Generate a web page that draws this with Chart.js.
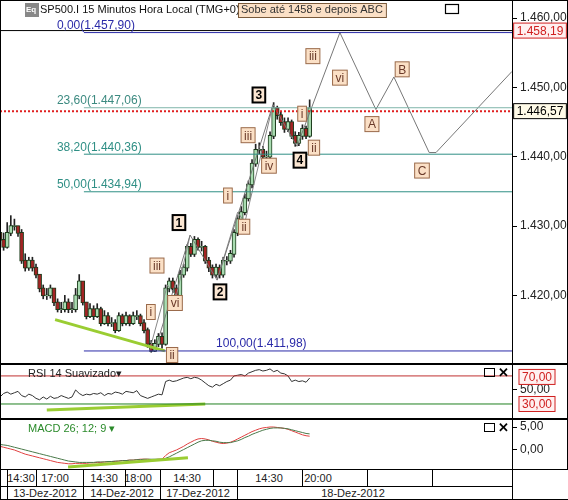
<!DOCTYPE html>
<html><head><meta charset="utf-8">
<script src="https://cdn.jsdelivr.net/npm/chart.js@4.4.1/dist/chart.umd.min.js"></script>
<style>
body{margin:0;width:568px;height:500px;background:#fff;position:relative;overflow:hidden;font-family:"Liberation Sans",Arial,sans-serif}
canvas{position:absolute;left:0}
.t{position:absolute;font-size:12px;color:#222;white-space:nowrap}
.sep{position:absolute;background:#000;width:1px}
</style></head><body>
<canvas id="main" style="top:0px" width="568" height="364"></canvas>
<canvas id="rsi" style="top:364px" width="568" height="55"></canvas>
<canvas id="macd" style="top:419px" width="568" height="51"></canvas>
<div id="axis"></div>
<script>
const closes=[1428,1427,1429,1430,1430,1429,1425,1424,1425,1424,1423,1421,1420,1420,1421,1419,1418,1418,1419,1418,1418,1420,1422,1419,1417,1418,1417,1418,1416,1417,1416,1416,1415,1417,1416,1417,1416,1417,1417,1416,1415,1413,1412,1413,1414,1413,1421,1422,1421,1420,1423,1424,1427,1426,1428,1427,1427,1425,1424,1423,1424,1423,1425,1425,1426,1429,1431,1432,1434,1436,1439,1441,1441,1440,1440,1443,1447,1446,1445,1444,1445,1443,1442,1443,1444,1443,1447];
const highs=[1430,1429,1430.5,1431.5,1431,1430,1429.5,1426,1425.5,1425.5,1424.5,1423,1421.5,1421,1421.5,1421,1419.5,1419,1420,1419.5,1419,1421,1423,1422,1419,1418.8,1418.5,1418.8,1418.3,1417.8,1417.5,1416.8,1416.5,1417.5,1417.3,1417.6,1417.2,1417.6,1417.8,1417.3,1416.5,1415.3,1413.5,1413.6,1414.5,1414.6,1421.5,1422.5,1422.5,1421.5,1423.6,1424.5,1427.3,1427.5,1428.5,1428.3,1427.8,1427.2,1425.5,1424.4,1424.5,1424.4,1425.5,1425.6,1426.5,1429.5,1431.5,1432.8,1434.6,1436.5,1439.6,1441.8,1442,1441.5,1440.8,1443.6,1447.8,1447.3,1446.4,1445.6,1445.6,1445.3,1443.6,1443.5,1444.6,1444.4,1448.2];
const lows=[1427.5,1426.5,1426.8,1428.6,1429.4,1428.5,1424.6,1423.5,1423.6,1423.5,1422.5,1420.5,1419.5,1419.4,1419.6,1418.5,1417.6,1417.5,1417.6,1417.5,1417.5,1417.6,1419.5,1418.6,1416.6,1416.8,1416.5,1416.8,1415.6,1415.8,1415.6,1415.5,1414.6,1414.8,1415.6,1415.7,1415.6,1415.8,1416.5,1415.6,1414.6,1412.5,1411.8,1411.9,1412.6,1412.4,1412.8,1420.5,1420.4,1419.5,1419.6,1422.6,1423.5,1425.6,1425.6,1426.5,1426.4,1424.6,1423.4,1422.5,1422.6,1422.5,1422.6,1424.4,1424.6,1425.5,1428.6,1430.6,1431.6,1433.6,1435.5,1438.6,1440.4,1439.6,1439.5,1439.6,1442.6,1445.4,1444.5,1443.5,1443.6,1442.6,1441.5,1441.6,1442.5,1442.6,1442.8];
const firstOpen=1429;
const rsiValues=[40,45,47,44,46,48,42,40,44,42,38,36,40,37,41,38,39,42,40,38,40,50,45,42,44,43,45,44,46,42,45,44,47,46,44,48,47,46,49,42,40,38,40,42,44,43,62,64,62,63,65,67,68,66,68,67,64,60,56,54,58,56,59,62,64,70,71,72,70,74,76,78,79,77,78,80,76,78,74,73,70,62,64,62,63,61,67];
const macdValues=[0.8,0.6,0.4,0.2,0.0,-0.3,-0.6,-0.9,-1.1,-1.3,-1.5,-1.7,-1.9,-2.1,-2.3,-2.5,-2.7,-2.8,-2.9,-3.0,-3.0,-2.9,-2.9,-2.9,-2.9,-2.8,-2.8,-2.7,-2.7,-2.6,-2.6,-2.5,-2.5,-2.4,-2.3,-2.3,-2.2,-2.2,-2.1,-2.0,-2.0,-2.0,-2.1,-2.1,-2.0,-2.0,-1.2,-0.6,-0.3,0.0,0.4,0.8,1.3,1.7,2.1,2.4,2.5,2.4,2.2,1.9,1.7,1.5,1.4,1.5,1.7,2.0,2.4,2.8,3.2,3.6,4.0,4.3,4.6,4.8,4.9,5.0,5.0,4.9,4.8,4.7,4.5,4.2,3.9,3.6,3.3,3.1,3.0];
const signalValues=[1.2,1.1,1.0,0.8,0.6,0.4,0.2,0.0,-0.2,-0.4,-0.6,-0.8,-1.0,-1.2,-1.4,-1.6,-1.8,-2.0,-2.2,-2.4,-2.5,-2.6,-2.7,-2.7,-2.7,-2.7,-2.7,-2.6,-2.6,-2.6,-2.5,-2.5,-2.4,-2.4,-2.3,-2.3,-2.2,-2.2,-2.1,-2.1,-2.0,-2.0,-2.0,-2.0,-2.0,-2.0,-1.8,-1.5,-1.1,-0.7,-0.3,0.1,0.5,0.9,1.3,1.7,2.0,2.1,2.1,2.0,1.9,1.7,1.6,1.6,1.6,1.8,2.0,2.3,2.7,3.0,3.4,3.7,4.0,4.3,4.5,4.7,4.8,4.8,4.8,4.7,4.6,4.4,4.2,4.0,3.8,3.6,3.5];
const fibLevels=[1457.90,1447.06,1440.36,1434.94,1411.98];
const fibLabels=["0,00(1.457,90)","23,60(1.447,06)","38,20(1.440,36)","50,00(1.434,94)","100,00(1.411,98)"];
const fibColors=["#2a2aa8","#7fb5ab","#2f8f85","#2f8f85","#2a2aa8"];
const fibLabelX=[15.8,15.8,15.8,15.8,60];
const waveX=[43,52.8,60.3,75.8,82.5,94.4,104.4,109.4,119.2,121.1,142.2];
const waveY=[1412,1428.7,1422.2,1447.5,1441.5,1457.9,1446.8,1451.5,1440.6,1440.6,1452.3];
const subWaveX=[41.5,46.5,49,52.8];
const subWaveY=[1412,1421.5,1420,1428.7];
const subWave2X=[60.3,66,68,75.8];
const subWave2Y=[1422.2,1432,1430.5,1447.5];
const labelText=["1","2","3","4","iii","vi","i","ii","i","ii","iii","iv","i","ii","iii","vi","A","B","C"];
const labelX=[49.7,61.1,71.9,83.3,43.6,48.6,41.9,47.8,63.3,67.8,68.9,74.7,83.9,87.2,86.9,94.4,103.3,111.7,117.2];
const labelY=[1430.5,1420.5,1448.9,1439.5,1424.3,1418.9,1417.6,1411.4,1434.4,1429.9,1443.1,1438.7,1446.2,1441.3,1454.5,1451.4,1444.7,1452.6,1438.0];
const priceTicks=[1420,1430,1440,1450,1460];
const rsiTicks=[50], macdTicks=[0,5];
const lastPrice=1446.57, targetPrice=1458.19;
const trendMainX=[15.3,45.8], trendMainY=[1416.5,1412.0];
const trendRsiX=[13,57], trendRsiY=[21.4,30];
const trendMacdX=[18.9,52.2], trendMacdY=[-3.7,-1.7];
const timeRow1=[["14:30",21],["17:00",55],["14:30",104],["18:00",138],["14:30",187],["14:30",269],["20:00",318]];
const timeRow1Sep=[7,36,83,125,160,213,237,302,367,432];
const timeRow2=[["13-Dez-2012",45],["14-Dez-2012",122],["17-Dez-2012",198],["18-Dez-2012",353]];
const timeRow2Sep=[7,83,160,237];

const XMAX=142.2;
const opens=closes.map((c,i)=>i===0?firstOpen:closes[i-1]);
const pts=(xs,ys)=>xs.map((x,i)=>({x,y:ys[i]}));
const font='"Liberation Sans",Arial,sans-serif';
Chart.defaults.font.family=font;Chart.defaults.font.size=11;Chart.defaults.animation=false;
const fmtNum=v=>v.toLocaleString('de-DE',{minimumFractionDigits:2,maximumFractionDigits:2});

function yAxis(min,max,ticks){
 return {position:'right',min,max,afterFit:s=>{s.width=56},
  afterBuildTicks:s=>{s.ticks=ticks.map(v=>({value:v}))},
  ticks:{display:false},
  grid:{display:true,drawOnChartArea:false,drawTicks:true,tickLength:5,color:'#000'},
  border:{display:true,color:'#000'}};
}
const tickLabels={id:'tickLabels',afterDraw(c){const s=c.scales.y,x=c.ctx;x.save();x.font='12px '+font;x.fillStyle='#222';x.textAlign='left';x.textBaseline='middle';
 s.ticks.forEach(t=>{x.fillText(fmtNum(t.value),s.left+8,s.getPixelForValue(t.value));});x.restore();}};
const xAxis={type:'linear',min:0,max:XMAX,display:false,offset:false};
const line=(data,color,w,extra)=>Object.assign({type:'line',data,borderColor:color,borderWidth:w,pointRadius:0,fill:false,tension:0},extra||{});
const frame={id:'frame',afterDraw(c){const x=c.ctx;x.save();x.strokeStyle='#000';x.lineWidth=1;x.strokeRect(0.5,0.5,c.width-1,c.height-1);x.restore();}};
const opts=(min,max,ticks)=>({responsive:false,layout:{padding:0},plugins:{legend:{display:false},tooltip:{enabled:false}},scales:{x:xAxis,y:yAxis(min,max,ticks)}});

function box(ctx,t,cx,cy,opt){
 ctx.font=(opt.bold?'bold ':'')+(opt.size||12)+'px '+font;
 const w=ctx.measureText(t).width+6,h=15;
 ctx.fillStyle=opt.bg;ctx.fillRect(cx-w/2,cy-h/2,w,h);
 ctx.lineWidth=opt.lw;ctx.strokeStyle=opt.bc;ctx.strokeRect(cx-w/2,cy-h/2,w,h);
 ctx.fillStyle=opt.fg;ctx.textAlign='center';ctx.textBaseline='middle';ctx.fillText(t,cx,cy+1);
}
const mainDeco={id:'mainDeco',afterDraw(c){
 const x=c.ctx,sx=c.scales.x,sy=c.scales.y;x.save();
 fibLabels.forEach((t,i)=>{x.font='12px '+font;x.fillStyle=fibColors[i]==="#7fb5ab"?"#3c8a80":fibColors[i];x.textAlign='left';x.textBaseline='bottom';x.fillText(t,sx.getPixelForValue(fibLabelX[i]),sy.getPixelForValue(fibLevels[i])-1);});
 labelText.forEach((t,i)=>{const big=/^[1-4]$/.test(t);box(x,t,sx.getPixelForValue(labelX[i]),sy.getPixelForValue(labelY[i]),big?{bg:'#fbe6d2',bc:'#000',lw:2,fg:'#000',bold:true}:{bg:'#fbe0c6',bc:'#9a6a4a',lw:1,fg:'#6a3a2a'});});
 box(x,fmtNum(targetPrice),540,sy.getPixelForValue(targetPrice),{bg:'#fff0f0',bc:'#d02020',lw:1,fg:'#d02020'});
 box(x,fmtNum(lastPrice),540,sy.getPixelForValue(lastPrice),{bg:'#fffbe8',bc:'#000',lw:1,fg:'#000'});
 x.fillStyle='#888';x.fillRect(25,3,14,14);x.fillStyle='#fff';x.font='bold 8px '+font;x.textAlign='left';x.textBaseline='alphabetic';x.fillText('Eq',26,12);
 x.font='11px '+font;x.fillStyle='#111';x.textBaseline='middle';x.fillText('SP500.I 15 Minutos Hora Local (TMG+0)▾',40,10);
 const t='Sobe até 1458 e depois ABC';const w=x.measureText(t).width+6;
 x.fillStyle='#fbe0c6';x.fillRect(238,3,w,14);x.strokeStyle='#7a5a3a';x.lineWidth=1;x.strokeRect(238.5,3.5,w,14);x.fillStyle='#333';x.fillText(t,241,10);
 x.strokeStyle='#000';x.lineWidth=1.2;x.strokeRect(445.5,4.5,13,9);
 x.restore();}};

const bodyColor=closes.map((c,i)=>c>=opens[i]?'#a9dcb1':'#a32424');
new Chart(document.getElementById('main'),{type:'bar',
 data:{datasets:[
  line(pts([0,XMAX],[targetPrice,targetPrice]),'#000',1),
  ...fibLevels.map((v,i)=>line(pts([23.3,XMAX],[v,v]),fibColors[i],1)),
  line(pts([0,XMAX],[lastPrice,lastPrice]),'#e02020',2,{borderDash:[2,2]}),
  line(pts(trendMainX,trendMainY),'#9acd32',3),
  line(pts(waveX,waveY),'#777',1),
  line(pts(subWaveX,subWaveY),'#888',1),
  line(pts(subWave2X,subWave2Y),'#888',1),
  {type:'bar',data:closes.map((c,i)=>({x:i,y:[Math.min(opens[i],c)-0.08,Math.max(opens[i],c)+0.08]})),backgroundColor:bodyColor,borderColor:'#1a3a1a',borderWidth:1,borderSkipped:false,barThickness:4,grouped:false,order:0},
  {type:'bar',data:closes.map((c,i)=>({x:i,y:[lows[i],highs[i]]})),backgroundColor:'#222',barThickness:1,grouped:false,order:1}
 ]},
 options:opts(1410.1,1462.6,priceTicks),
 plugins:[mainDeco,tickLabels,frame]});

const closeIcons=(x)=>{x.strokeStyle='#000';x.lineWidth=1;x.strokeRect(484.5,4.5,10,8);x.font='bold 13px '+font;x.fillStyle='#000';x.textAlign='left';x.textBaseline='middle';x.fillText('✕',498,9);};
const rsiDeco={id:'rsiDeco',afterDraw(c){const x=c.ctx,sy=c.scales.y;x.save();
 x.font='11px '+font;x.fillStyle='#222';x.textAlign='left';x.textBaseline='middle';x.fillText('RSI 14 Suavizado▾',28,10);
 box(x,'70,00',537,sy.getPixelForValue(70)+1,{bg:'#fff0f0',bc:'#d02020',lw:1,fg:'#d02020'});
 box(x,'30,00',537,sy.getPixelForValue(30),{bg:'#fff0f0',bc:'#d02020',lw:1,fg:'#d02020'});
 closeIcons(x);x.restore();}};
new Chart(document.getElementById('rsi'),{type:'line',
 data:{datasets:[
  line(pts([0,XMAX],[70,70]),'#c03030',1),
  line(pts([0,XMAX],[30,30]),'#208020',1),
  line(pts(trendRsiX,trendRsiY),'#9acd32',3),
  line(rsiValues.map((v,i)=>({x:i,y:v})),'#333',1)
 ]},
 options:opts(8.6,87,rsiTicks),
 plugins:[tickLabels,rsiDeco,frame]});

const macdDeco={id:'macdDeco',afterDraw(c){const x=c.ctx;x.save();
 x.font='11px '+font;x.fillStyle='#2a8a2a';x.textAlign='left';x.textBaseline='middle';x.fillText('MACD 26; 12; 9 ▾',28,10);
 closeIcons(x);x.restore();}};
new Chart(document.getElementById('macd'),{type:'line',
 data:{datasets:[
  line(pts(trendMacdX,trendMacdY),'#9acd32',3),
  line(signalValues.map((v,i)=>({x:i,y:v})),'#4a7a4a',1),
  line(macdValues.map((v,i)=>({x:i,y:v})),'#e04040',1)
 ]},
 options:opts(-4.35,6.74,macdTicks),
 plugins:[tickLabels,macdDeco,frame]});

const ax=document.getElementById('axis');
function add(html){ax.insertAdjacentHTML('beforeend',html);}
add('<div style="position:absolute;left:0;top:470px;width:567px;height:29px;border:1px solid #000;border-top:none"></div>');
add('<div style="position:absolute;left:0;top:486px;width:512px;height:1px;background:#000"></div>');
add('<div class="sep" style="left:512px;top:470px;height:30px"></div>');
timeRow1.forEach(([t,x])=>add(`<div class="t" style="left:${x-16}px;width:32px;text-align:center;top:472px;font-size:11px">${t}</div>`));
timeRow1Sep.forEach(x=>add(`<div class="sep" style="left:${x}px;top:470px;height:16px"></div>`));
timeRow2.forEach(([t,x])=>add(`<div class="t" style="left:${x-40}px;width:80px;text-align:center;top:487px;font-size:11px">${t}</div>`));
timeRow2Sep.forEach(x=>add(`<div class="sep" style="left:${x}px;top:486px;height:14px"></div>`));
</script></body></html>
